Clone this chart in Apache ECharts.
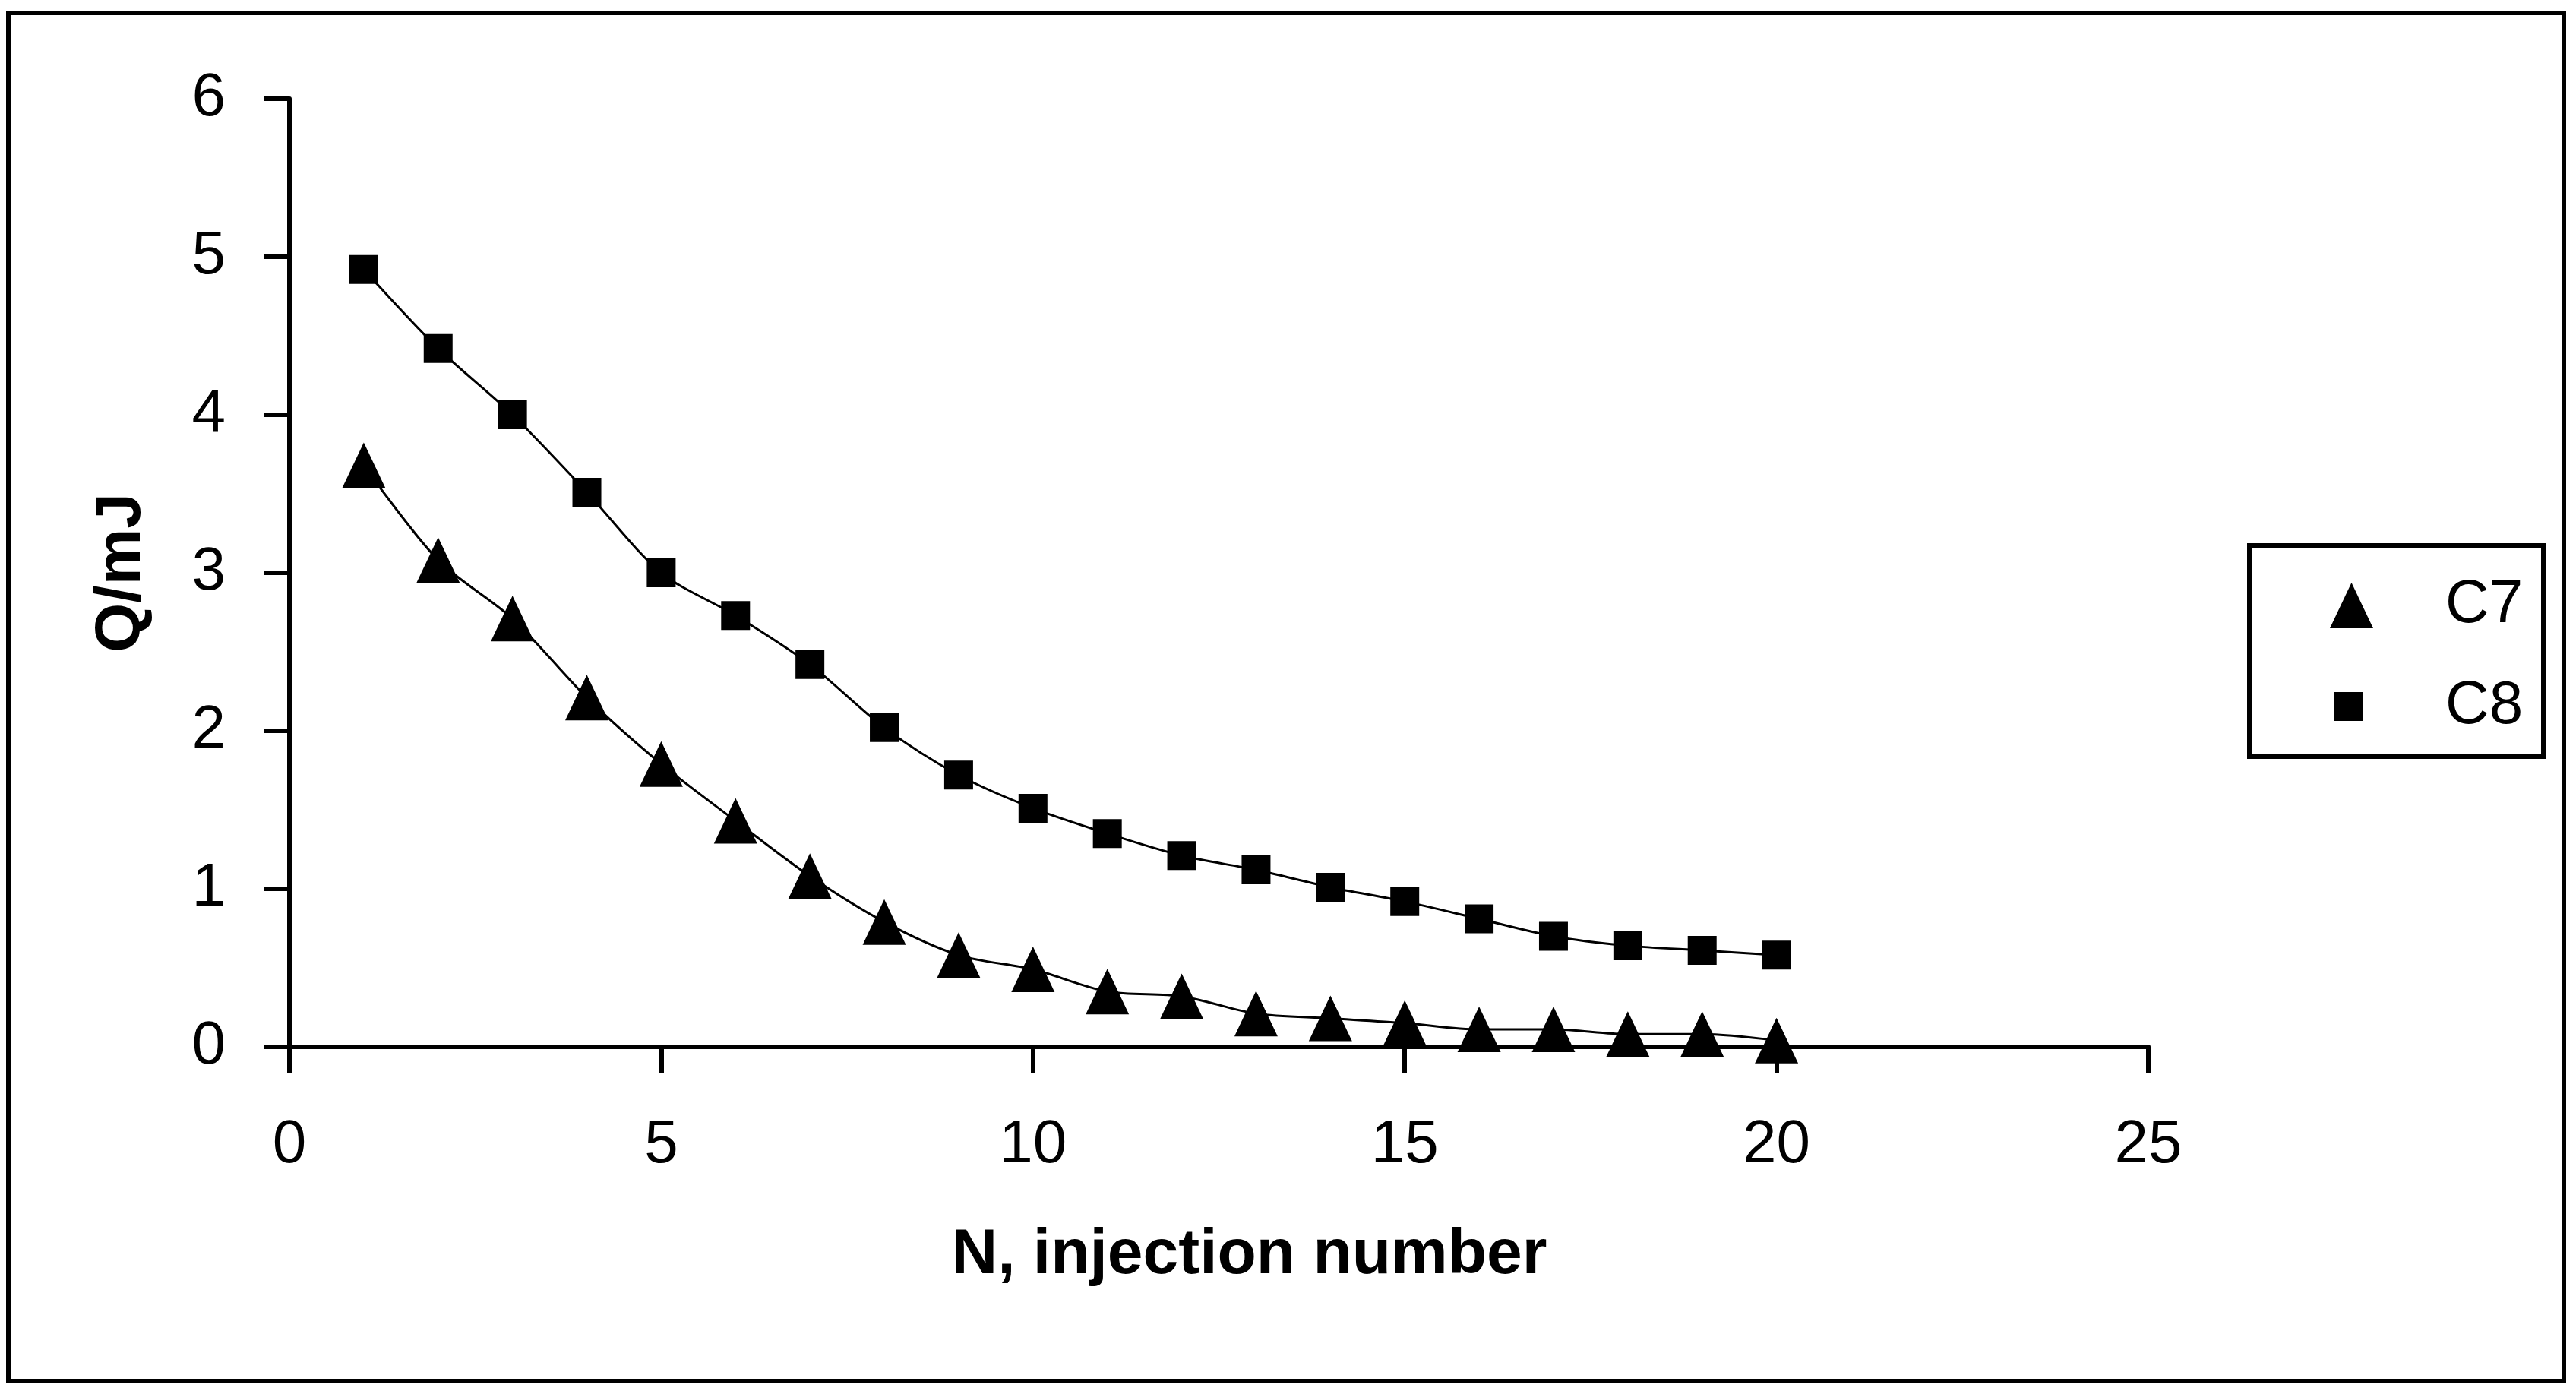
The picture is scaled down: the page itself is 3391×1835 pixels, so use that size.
<!DOCTYPE html>
<html>
<head>
<meta charset="utf-8">
<script src="https://cdn.jsdelivr.net/npm/echarts@6/dist/echarts.min.js"></script>
<style>
html,body{margin:0;padding:0;background:#fff;}
#chart{width:3391px;height:1835px;}
</style>
</head>
<body>
<div id="chart"></div>
<script>
const injectionNumbers = [1,2,3,4,5,6,7,8,9,10,11,12,13,14,15,16,17,18,19,20];
const c7Values = [3.68,3.08,2.71,2.21,1.79,1.43,1.08,0.79,0.58,0.49,0.35,0.32,0.21,0.18,0.15,0.11,0.11,0.08,0.08,0.04];
const c8Values = [4.92,4.42,4.00,3.51,3.00,2.73,2.42,2.02,1.72,1.51,1.35,1.21,1.12,1.01,0.92,0.81,0.70,0.64,0.61,0.58];
const seriesNames = ['C7','C8'];
const xAxisTitle = 'N, injection number';
const yAxisTitle = 'Q/mJ';

const FONT = '"Liberation Sans", Arial, sans-serif';
const chart = echarts.init(document.getElementById('chart'), null, {renderer:'canvas'});

const legendText = (pad) => ({fontSize:80, color:'#000', fontFamily:FONT, padding:[0,0,0,pad]});

chart.setOption({
  backgroundColor:'#fff',
  animation:false,
  grid:{left:381, right:563, top:130, bottom:457, containLabel:false},
  xAxis:{
    type:'value', min:0, max:25, interval:5,
    name:xAxisTitle, nameLocation:'middle', nameGap:233,
    nameTextStyle:{fontSize:84, fontWeight:'bold', color:'#000', fontFamily:FONT, padding:[0,0,0,80]},
    axisLine:{show:true, onZero:false, lineStyle:{color:'#000', width:6}},
    axisTick:{show:true, inside:false, length:34, lineStyle:{color:'#000', width:6}},
    axisLabel:{fontSize:80, color:'#000', fontFamily:FONT, margin:90},
    splitLine:{show:false}
  },
  yAxis:{
    type:'value', min:0, max:6, interval:1,
    name:yAxisTitle, nameLocation:'middle', nameGap:178,
    nameTextStyle:{fontSize:84, fontWeight:'bold', color:'#000', fontFamily:FONT},
    axisLine:{show:true, lineStyle:{color:'#000', width:6}},
    axisTick:{show:true, inside:false, length:34, lineStyle:{color:'#000', width:6}},
    axisLabel:{fontSize:80, color:'#000', fontFamily:FONT, margin:84},
    splitLine:{show:false}
  },
  legend:[
    {data:[{name:seriesNames[0], icon:'triangle'}], left:3067, top:757, orient:'vertical',
     itemWidth:57, itemHeight:60, padding:0, selectedMode:false, textStyle:legendText(90),
     itemStyle:{color:'#000'}},
    {data:[{name:seriesNames[1], icon:'rect'}], left:3073, top:890, orient:'vertical',
     itemWidth:38, itemHeight:38, padding:0, selectedMode:false, textStyle:legendText(103),
     itemStyle:{color:'#000'}}
  ],
  graphic:[
    {type:'rect', left:8, top:14, shape:{x:0, y:0, width:3364, height:1801},
     style:{fill:'none', stroke:'#000', lineWidth:6}, silent:true},
    {type:'rect', left:2958, top:715, shape:{x:0, y:0, width:387, height:278},
     style:{fill:'none', stroke:'#000', lineWidth:6}, silent:true}
  ],
  series:[
    {name:seriesNames[0], type:'line', data:injectionNumbers.map((n,i)=>[n,c7Values[i]]),
     symbol:'triangle', symbolSize:[57,60], smooth:0.3, clip:false,
     lineStyle:{color:'#000', width:3}, itemStyle:{color:'#000'}, z:3},
    {name:seriesNames[1], type:'line', data:injectionNumbers.map((n,i)=>[n,c8Values[i]]),
     symbol:'rect', symbolSize:38, smooth:0.3, clip:false,
     lineStyle:{color:'#000', width:3}, itemStyle:{color:'#000'}, z:3}
  ]
});
</script>
</body>
</html>
